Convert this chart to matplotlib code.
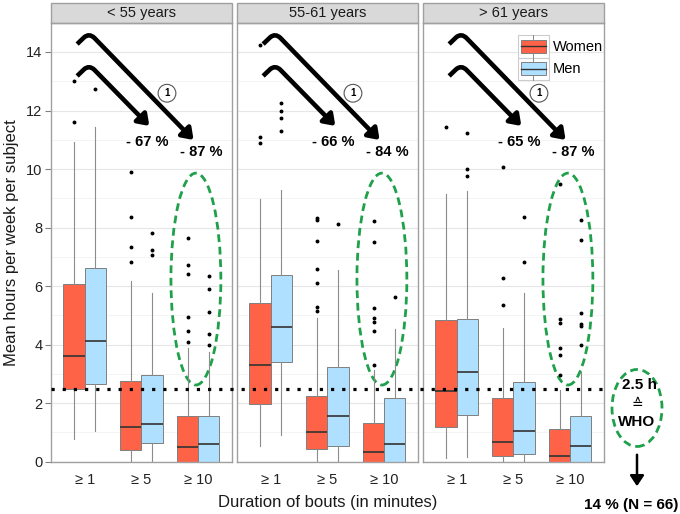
import numpy as np
import matplotlib.pyplot as plt
import matplotlib.transforms as mtransforms
from matplotlib.patches import Ellipse, FancyArrowPatch, Rectangle, Patch
from matplotlib.lines import Line2D
from matplotlib.path import Path
from matplotlib.legend_handler import HandlerBase

plt.rcParams['font.family'] = ['Liberation Sans', 'DejaVu Sans']

groups = ['< 55 years', '55-61 years', '> 61 years']
bouts = ['≥ 1', '≥ 5', '≥ 10']
reductions = [['- 67 %', '- 87 %'], ['- 66 %', '- 84 %'], ['- 65 %', '- 87 %']]
who_level = 2.5

# rows = age groups, columns = bout durations (>=1, >=5, >=10)
women_q1 = [[2.50, 0.39, 0.00], [1.96, 0.43, 0.00], [1.20, 0.20, 0.00]]
women_med = [[3.60, 1.17, 0.50], [3.30, 1.01, 0.34], [2.42, 0.69, 0.20]]
women_q3 = [[6.07, 2.75, 1.57], [5.41, 2.23, 1.31], [4.83, 2.18, 1.13]]
women_lo = [[0.79, 0.00, 0.00], [0.53, 0.00, 0.00], [0.11, 0.00, 0.00]]
women_hi = [[10.93, 6.17, 3.89], [8.97, 4.90, 3.13], [9.15, 4.58, 2.44]]
women_out = [
    [[11.6, 13.0], [6.82, 7.33, 8.35, 9.91], [4.09, 4.46, 4.96, 6.41, 6.71, 7.63]],
    [[10.9, 11.1, 14.24], [5.15, 5.29, 6.11, 6.60, 7.55, 8.27, 8.34], [3.32, 4.46, 4.78, 4.92, 5.24, 7.50, 8.22]],
    [[11.44], [5.34, 6.28, 10.08], [2.95, 3.63, 3.90, 4.75, 4.88, 9.49]],
]

men_q1 = [[2.64, 0.64, 0.00], [3.40, 0.55, 0.00], [1.59, 0.25, 0.00]]
men_med = [[4.13, 1.28, 0.61], [4.61, 1.56, 0.60], [3.07, 1.05, 0.52]]
men_q3 = [[6.63, 2.95, 1.57], [6.37, 3.23, 2.19], [4.86, 2.71, 1.55]]
men_lo = [[1.04, 0.00, 0.00], [0.90, 0.00, 0.00], [0.16, 0.00, 0.00]]
men_hi = [[11.44, 5.78, 3.75], [9.27, 6.55, 4.55], [9.24, 5.77, 3.07]]
men_out = [
    [[12.72], [7.05, 7.24, 7.81], [3.98, 4.37, 5.10, 5.89, 6.33]],
    [[11.29, 11.75, 11.97, 12.27], [8.13], [5.63]],
    [[9.76, 10.0, 11.22], [6.81, 8.35], [4.00, 4.65, 4.70, 5.08, 7.57, 8.25]],
]

women_col = '#FF6347'
men_col = '#B0E0FF'
green = '#1FA04A'
W, H = 680, 514


class BoxKey(HandlerBase):
    def create_artists(self, legend, orig_handle, xd, yd, width, height, fontsize, trans):
        x0, y0 = -xd, -yd
        bg = Rectangle((x0, y0), width, height, fc='white', ec='#CCCCCC', lw=0.8, transform=trans)
        box = Rectangle((x0 + 0.1 * width, y0 + 0.22 * height), 0.8 * width, 0.56 * height,
                        fc=orig_handle.get_facecolor(), ec='#808080', lw=0.7, transform=trans)
        med = Line2D([x0 + 0.1 * width, x0 + 0.9 * width], [y0 + 0.5 * height] * 2,
                     color='#333333', lw=1.0, transform=trans)
        w1 = Line2D([x0 + width / 2] * 2, [y0, y0 + 0.22 * height], color='#888888', lw=0.7, transform=trans)
        w2 = Line2D([x0 + width / 2] * 2, [y0 + 0.78 * height, y0 + height], color='#888888', lw=0.7, transform=trans)
        return [bg, box, med, w1, w2]


def make_stats(q1, med, q3, lo, hi, out):
    return [dict(q1=q1[j], med=med[j], q3=q3[j], whislo=lo[j], whishi=hi[j], fliers=out[j])
            for j in range(len(med))]


def bent_arrow(ax, pts):
    codes = [Path.MOVETO, Path.LINETO, Path.CURVE3, Path.CURVE3, Path.LINETO]
    arr = FancyArrowPatch(path=Path(pts, codes), arrowstyle='-|>,head_length=0.4,head_width=0.28',
                          mutation_scale=16, lw=3.3, color='black', joinstyle='round',
                          capstyle='butt', transform=ax.transData, clip_on=False)
    ax.add_patch(arr)


fig = plt.figure(figsize=(W / 100, H / 100), dpi=100)
pw, gap, left0 = 181.5, 4.5, 50.7
bottom, top = 461.7, 22.7
axes = []
for i in range(3):
    l = left0 + i * (pw + gap)
    ax = fig.add_axes([l / W, 1 - bottom / H, pw / W, (bottom - top) / H])
    axes.append(ax)

pos = np.arange(1, 4)
for i, ax in enumerate(axes):
    ax.set_xlim(0.4, 3.6)
    ax.set_ylim(0, 15)
    ax.set_yticks(np.arange(0, 15, 2))
    ax.set_yticks(np.arange(1, 16, 2), minor=True)
    ax.grid(True, axis='y', which='major', color='#E6E6E6', lw=0.8)
    ax.grid(True, axis='y', which='minor', color='#F2F2F2', lw=0.6)
    ax.set_axisbelow(True)
    for s in ax.spines.values():
        s.set_color('#A0A0A0')
        s.set_linewidth(1.0)

    common = dict(widths=0.375, patch_artist=True, showcaps=False, manage_ticks=False,
                  whiskerprops=dict(color='#8C8C8C', lw=0.8),
                  medianprops=dict(color='#333333', lw=1.2),
                  flierprops=dict(marker='o', markersize=1.8, markerfacecolor='black',
                                  markeredgecolor='black', linestyle='none'))
    ax.bxp(make_stats(women_q1[i], women_med[i], women_q3[i], women_lo[i], women_hi[i], women_out[i]),
           positions=pos - 0.1875, boxprops=dict(facecolor=women_col, edgecolor='#7F7F7F', lw=0.7), **common)
    ax.bxp(make_stats(men_q1[i], men_med[i], men_q3[i], men_lo[i], men_hi[i], men_out[i]),
           positions=pos + 0.1875, boxprops=dict(facecolor=men_col, edgecolor='#7F7F7F', lw=0.7), **common)

    ax.set_xticks(pos)
    ax.set_xticklabels(bouts, fontsize=10.5, color='#222222')
    ax.tick_params(axis='x', length=0, pad=8)
    ax.tick_params(axis='y', which='minor', length=0)
    if i == 0:
        ax.tick_params(axis='y', which='major', length=4, color='#808080', labelsize=10.5,
                       labelcolor='#222222', pad=2)
    else:
        ax.tick_params(axis='y', which='both', length=0, labelleft=False)

    # strip
    sh = 19.5 / (bottom - top)
    ax.add_patch(Rectangle((0, 1), 1, sh, transform=ax.transAxes, fc='#D9D9D9', ec='#A0A0A0',
                           lw=1.0, clip_on=False))
    ax.text(0.5, 1 + sh / 2, groups[i], transform=ax.transAxes, ha='center', va='center',
            fontsize=10.5, color='#1A1A1A')

    # green dashed ellipse around >= 10
    ax.add_patch(Ellipse((2.96, 6.24), 0.88, 7.24, fill=False, ec=green, lw=2.0,
                         linestyle=(0, (2.8, 1.7))))

    # bent arrows
    bent_arrow(ax, [(0.866, 14.27), (0.99, 14.50), (1.08, 14.65), (1.17, 14.48), (2.92, 10.99)])
    bent_arrow(ax, [(0.866, 13.18), (0.99, 13.41), (1.08, 13.56), (1.17, 13.39), (2.14, 11.47)])
    ax.text(2.11, 10.93, reductions[i][0], ha='center', va='center', fontsize=10.5, fontweight='bold')
    ax.text(3.06, 10.57, reductions[i][1], ha='center', va='center', fontsize=10.5, fontweight='bold')
    ax.text(2.45, 12.59, '1', ha='center', va='center', fontsize=7, fontweight='bold',
            bbox=dict(boxstyle='circle,pad=0.4', fc='white', ec='#555555', lw=0.8))

axes[0].set_ylabel('Mean hours per week per subject', fontsize=12, color='#1A1A1A', labelpad=5)
fig.text(327.5 / W, 1 - 502 / H, 'Duration of bouts (in minutes)', ha='center', va='center',
         fontsize=12, color='#1A1A1A')

leg = axes[2].legend([Patch(facecolor=women_col), Patch(facecolor=men_col)], ['Women', 'Men'],
                     handler_map={Patch: BoxKey()}, loc='upper left', bbox_to_anchor=(0.525, 0.972),
                     frameon=False, fontsize=10.5, handlelength=2.1, handleheight=2.0,
                     labelspacing=0.0, handletextpad=0.3, borderpad=0, borderaxespad=0)

# WHO reference line across all panels
blend = mtransforms.blended_transform_factory(fig.transFigure, axes[0].transData)
fig.add_artist(Line2D([left0 / W, 607 / W], [who_level, who_level], transform=blend, color='black',
                      lw=2.3, linestyle=(0, (1, 2.5))))

fig.add_artist(Ellipse((637 / W, 1 - 408 / H), 50 / W, 77 / H, transform=fig.transFigure, fill=False,
                       ec=green, lw=2.0, linestyle=(0, (2.8, 1.7))))
fig.text(639 / W, 1 - 385 / H, '2.5 h', ha='center', va='center', fontsize=11, fontweight='bold')
fig.text(637 / W, 1 - 404 / H, '≙', ha='center', va='center', fontsize=10)
fig.text(637 / W, 1 - 422 / H, 'WHO', ha='center', va='center', fontsize=11, fontweight='bold')
fig.add_artist(FancyArrowPatch((637 / W, 1 - 452 / H), (637 / W, 1 - 489 / H), transform=fig.transFigure,
                               arrowstyle='-|>,head_length=0.45,head_width=0.3', mutation_scale=14,
                               lw=1.8, color='black'))
fig.text(631 / W, 1 - 505 / H, '14 % (N = 66)', ha='center', va='center', fontsize=11, fontweight='bold')

fig.savefig('out.png', dpi=100)
